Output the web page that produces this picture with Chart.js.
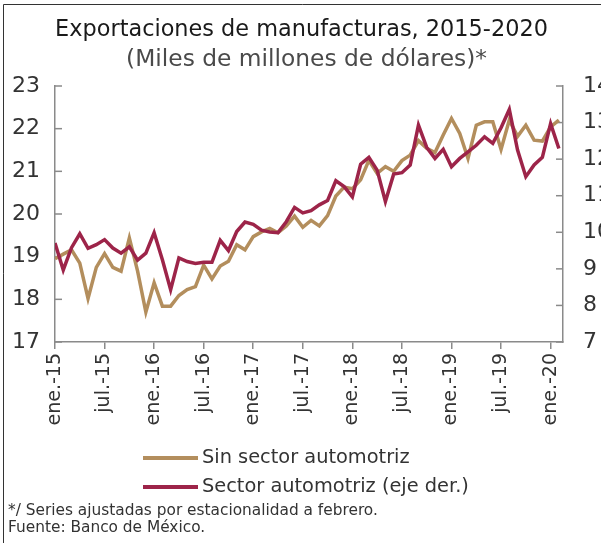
<!DOCTYPE html>
<html><head><meta charset="utf-8">
<script src="https://cdn.jsdelivr.net/npm/chart.js@4.4.1/dist/chart.umd.min.js"></script>
<style>html,body{margin:0;padding:0;background:#fff;overflow:hidden}#wrap{width:601px;height:543px;position:relative}</style>
</head><body><div id="wrap"><canvas id="c" width="601" height="543"></canvas></div>
<script>
const monthAbbr = ['ene.','feb.','mar.','abr.','may.','jun.','jul.','ago.','sep.','oct.','nov.','dic.'];
const years = ['15','16','17','18','19','20'];
const months = [];
years.forEach(y => monthAbbr.forEach(m => months.push(m + '-' + y)));
months.length = 62; // ene.-15 ... feb.-20

const sinSector = [
  18.95, 19.06, 19.16, 18.85, 18.02, 18.75, 19.07, 18.75, 18.66, 19.44, 18.66, 17.70,
  18.39, 17.84, 17.84, 18.09, 18.23, 18.30, 18.80, 18.48, 18.78, 18.89, 19.28, 19.16,
  19.47, 19.58, 19.66, 19.56, 19.72, 19.95, 19.69, 19.85, 19.72, 19.96, 20.42, 20.63,
  20.59, 20.80, 21.26, 20.95, 21.11, 21.00, 21.25, 21.38, 21.72, 21.54, 21.44, 21.85,
  22.24, 21.89, 21.30, 22.08, 22.16, 22.16, 21.51, 22.20, 21.82, 22.08, 21.73, 21.71,
  22.04, 22.20
];
const sectorAutomotriz = [
  9.71, 8.97, 9.58, 9.96, 9.56, 9.66, 9.80, 9.57, 9.43, 9.60, 9.24, 9.43,
  9.99, 9.25, 8.43, 9.30, 9.20, 9.15, 9.18, 9.18, 9.78, 9.50, 10.02, 10.28,
  10.22, 10.06, 10.01, 9.99, 10.29, 10.68, 10.53, 10.59, 10.75, 10.87, 11.41, 11.25,
  10.97, 11.86, 12.05, 11.70, 10.84, 11.59, 11.63, 11.84, 12.93, 12.32, 12.02, 12.27,
  11.79, 12.02, 12.20, 12.38, 12.61, 12.43, 12.86, 13.36, 12.25, 11.52, 11.84, 12.05,
  12.97, 12.29
];
const leftRange = [17, 23];
const rightRange = [7, 14];
const seriesNames = ['Sin sector automotriz', 'Sector automotriz (eje der.)'];
const titleText = 'Exportaciones de manufacturas, 2015-2020';
const subtitleText = '(Miles de millones de dólares)*';
const notes = ['*/ Series ajustadas por estacionalidad a febrero.', 'Fuente: Banco de México.'];

const GOLD = '#B38E5D', RED = '#9D2449', AXIS = '#8a8a8a', TXT = '#333333';
const FAM = '"DejaVu Sans", sans-serif';

function fitFont(ctx, text, target, weight) {
  ctx.font = weight + ' 100px ' + FAM;
  const w = ctx.measureText(text).width;
  return (100 * target / w).toFixed(2);
}

const decor = {
  id: 'decor',
  beforeDatasetsDraw(chart) {
    const ctx = chart.ctx, ca = chart.chartArea;
    ctx.save();
    ctx.strokeStyle = AXIS; ctx.lineWidth = 1.5;
    const yl = chart.scales.y, yr = chart.scales.y1;
    yl.ticks.forEach(t => {
      const py = yl.getPixelForValue(t.value);
      ctx.beginPath(); ctx.moveTo(ca.left, py); ctx.lineTo(ca.left + 7, py); ctx.stroke();
    });
    yr.ticks.forEach(t => {
      const py = yr.getPixelForValue(t.value);
      ctx.beginPath(); ctx.moveTo(ca.right, py); ctx.lineTo(ca.right - 7, py); ctx.stroke();
    });
    ctx.restore();
  },
  afterDraw(chart) {
    const ctx = chart.ctx;
    ctx.save();
    // frame
    ctx.strokeStyle = '#333'; ctx.lineWidth = 1;
    ctx.beginPath(); ctx.moveTo(3.5, 543); ctx.lineTo(3.5, 4.5); ctx.lineTo(601, 4.5); ctx.stroke();
    // title
    ctx.textBaseline = 'middle';
    ctx.textAlign = 'center';
    ctx.fillStyle = '#1a1a1a';
    ctx.font = 'normal ' + fitFont(ctx, titleText, 493, 'normal') + 'px ' + FAM;
    ctx.fillText(titleText, 301.5, 30);
    ctx.fillStyle = '#4a4a4a';
    ctx.font = 'normal ' + fitFont(ctx, subtitleText, 361, 'normal') + 'px ' + FAM;
    ctx.fillText(subtitleText, 306.5, 60);
    // legend
    const colors = [GOLD, RED];
    const rows = [458, 487];
    const legendSize = fitFont(ctx, seriesNames[1], 267, 'normal');
    ctx.textAlign = 'left';
    seriesNames.forEach((name, i) => {
      ctx.strokeStyle = colors[i]; ctx.lineWidth = 4;
      ctx.beginPath(); ctx.moveTo(143, rows[i]); ctx.lineTo(198, rows[i]); ctx.stroke();
      ctx.fillStyle = TXT;
      ctx.font = 'normal ' + legendSize + 'px ' + FAM;
      ctx.fillText(name, 202, rows[i]);
    });
    // notes
    const noteSize = fitFont(ctx, notes[0], 370, 'normal');
    ctx.font = 'normal ' + noteSize + 'px ' + FAM;
    ctx.fillText(notes[0], 8, 511);
    ctx.fillText(notes[1], 8, 528);
    ctx.restore();
  }
};

new Chart(document.getElementById('c'), {
  type: 'line',
  data: {
    datasets: [
      { label: seriesNames[0], data: sinSector.map((v, i) => ({x: i, y: v})), yAxisID: 'y',
        borderColor: GOLD, backgroundColor: GOLD, borderWidth: 3.5, pointRadius: 0, tension: 0, order: 1,
        borderJoinStyle: 'miter' },
      { label: seriesNames[1], data: sectorAutomotriz.map((v, i) => ({x: i, y: v})), yAxisID: 'y1',
        borderColor: RED, backgroundColor: RED, borderWidth: 3.5, pointRadius: 0, tension: 0, order: 0,
        borderJoinStyle: 'miter' }
    ]
  },
  options: {
    responsive: false, animation: false, devicePixelRatio: 1, events: [],
    layout: { padding: { top: 86, left: 0, right: 0, bottom: 0 } },
    plugins: { legend: { display: false }, tooltip: { enabled: false }, title: { display: false } },
    scales: {
      x: {
        type: 'linear', position: 'bottom', min: 0, max: 61.5,
        afterFit: s => { s.height = 201; },
        ticks: { stepSize: 6, includeBounds: false, autoSkip: false, minRotation: 90, maxRotation: 90,
          padding: 4, color: TXT, font: { family: FAM, size: 19 },
          callback: v => (v % 6 === 0 ? months[v] : '') },
        grid: { drawOnChartArea: false, drawTicks: true, tickLength: 7, color: AXIS, lineWidth: 1.5 },
        border: { display: true, color: AXIS, width: 1.5 }
      },
      y: {
        position: 'left', min: leftRange[0], max: leftRange[1],
        afterFit: s => { s.width = 55; },
        ticks: { stepSize: 1, padding: 15, crossAlign: 'center', color: TXT, font: { family: FAM, size: 22 } },
        grid: { display: false, drawTicks: false },
        border: { display: true, color: AXIS, width: 1.5 }
      },
      y1: {
        position: 'right', min: rightRange[0], max: rightRange[1],
        afterFit: s => { s.width = 38; },
        ticks: { stepSize: 1, padding: 20, color: TXT, font: { family: FAM, size: 22 } },
        grid: { display: false, drawTicks: false },
        border: { display: true, color: AXIS, width: 1.5 }
      }
    }
  },
  plugins: [decor]
});
</script></body></html>
